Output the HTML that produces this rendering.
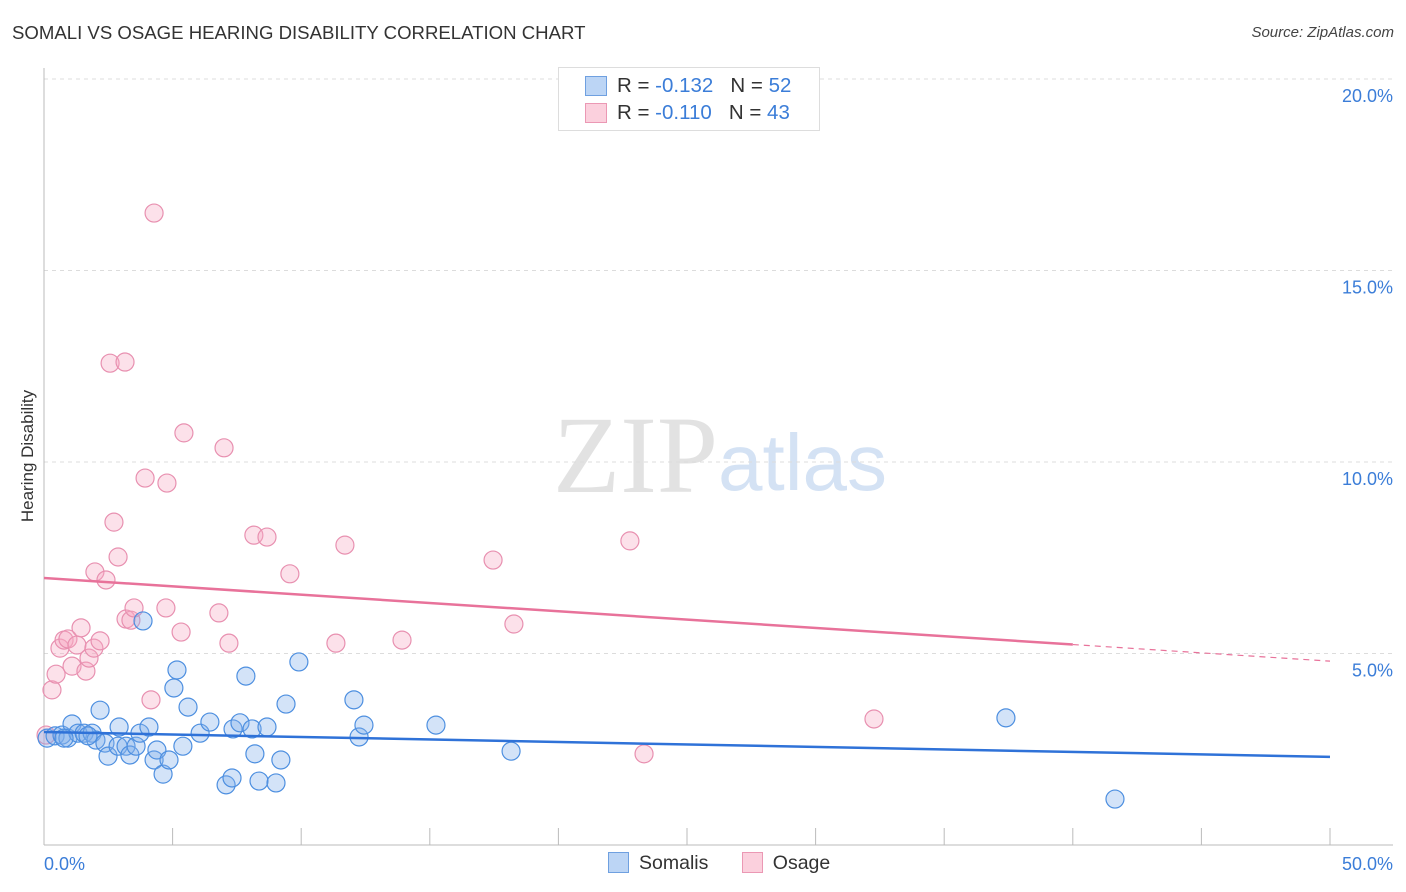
<!DOCTYPE html>
<html><head><meta charset="utf-8">
<style>
body{margin:0;background:#fff;font-family:"Liberation Sans",sans-serif;}
#wrap{position:relative;width:1406px;height:892px;overflow:hidden;}
.title{position:absolute;left:12px;top:22px;font-size:18.6px;color:#333;}
.source{position:absolute;right:12px;top:24px;font-size:15px;color:#444;font-style:italic;}
</style></head><body>
<div id="wrap">
<div class="title">SOMALI VS OSAGE HEARING DISABILITY CORRELATION CHART</div>
<div class="source">Source: ZipAtlas.com</div>
<svg id="chart" width="1406" height="892" style="position:absolute;left:0;top:0"></svg>
</div>
<script>
const xTicks=[0,5,10,15,20,25,30,35,40,45,50];
const yTicks=[5,10,15,20];
const somaliX=[0.12,0.43,0.70,0.93,1.09,1.32,1.56,1.87,2.02,2.18,2.37,2.49,2.92,2.88,3.19,3.34,3.58,3.73,3.85,4.08,4.28,4.39,4.63,4.86,5.05,5.17,5.40,5.60,6.07,6.45,7.08,7.31,7.35,7.62,7.85,8.09,8.20,8.36,8.67,9.02,9.21,9.41,9.91,12.05,12.25,12.44,15.24,18.16,37.40,41.64,1.71,0.78];
const somaliY=[2.79,2.85,2.87,2.79,3.16,2.92,2.92,2.92,2.74,3.52,2.66,2.32,3.08,2.58,2.58,2.35,2.58,2.92,5.85,3.08,2.22,2.48,1.85,2.22,4.10,4.57,2.58,3.60,2.92,3.21,1.57,1.75,3.03,3.19,4.41,3.03,2.38,1.67,3.08,1.62,2.22,3.68,4.78,3.79,2.82,3.13,3.13,2.45,3.32,1.20,2.85,2.79];
const osageX=[0.08,0.31,0.47,0.62,0.78,0.93,1.09,1.28,1.44,1.63,1.75,1.94,2.18,1.98,2.41,2.57,2.72,2.88,3.15,3.19,3.38,3.50,4.16,3.93,4.28,4.78,4.74,5.33,5.44,6.80,7.00,7.19,8.16,8.67,9.56,11.35,11.70,13.92,17.46,18.27,22.78,23.33,32.27];
const osageY=[2.87,4.05,4.46,5.14,5.35,5.38,4.67,5.22,5.67,4.54,4.88,5.14,5.33,7.13,6.92,12.58,8.43,7.52,12.61,5.90,5.87,6.19,3.79,9.58,16.50,9.45,6.19,5.56,10.76,6.06,10.37,5.27,8.09,8.04,7.08,5.27,7.83,5.35,7.44,5.77,7.94,2.38,3.29];
const somaliTrend=[2.95,2.30];
const osageTrend=[6.97,4.80];
const NS="http://www.w3.org/2000/svg";
const svg=document.getElementById('chart');
const X=v=>44+v*25.72, Y=v=>845-v*38.3;
function mk(t,a,p){const e=document.createElementNS(NS,t);for(const k in a)e.setAttribute(k,a[k]);(p||svg).appendChild(e);return e;}
let wm=mk('text',{x:553,y:492,'font-size':110,fill:'#e2e2e2','font-family':'Liberation Serif, serif'});wm.textContent='ZIP';


let wm2=mk('text',{x:718,y:490,'font-size':80,fill:'#d4e2f4','font-family':'Liberation Sans, sans-serif'});wm2.textContent='atlas';


yTicks.forEach(t=>{
 const g=mk('line',{x1:44,x2:1393,y1:Y(t),y2:Y(t),stroke:'#dcdcdc','stroke-dasharray':'4,4'});
 
 
 const l=mk('text',{x:1393,y:Y(t)+23,'text-anchor':'end','font-size':18,fill:'#3b7dd8'});l.textContent=t.toFixed(1)+'%';
 
 
});
mk('line',{x1:44,x2:44,y1:68,y2:845,stroke:'#bbb'});
mk('line',{x1:44,x2:1393,y1:845,y2:845,stroke:'#bbb'});
xTicks.forEach(t=>{const e=mk('line',{x1:X(t),x2:X(t),y1:828,y2:845,stroke:'#bbb'});
 
 });
let xl=mk('text',{x:44,y:870,'font-size':18,fill:'#3b7dd8'});xl.textContent='0.0%';


let xr=mk('text',{x:1393,y:870,'text-anchor':'end','font-size':18,fill:'#3b7dd8'});xr.textContent='50.0%';


let yt=mk('text',{x:0,y:0,'font-size':17,fill:'#333','text-anchor':'middle',transform:'translate(33,456) rotate(-90)'});yt.textContent='Hearing Disability';


function pts(xs,ys,fill,stroke,name){xs.forEach((x,i)=>{const c=mk('circle',{cx:X(x),cy:Y(ys[i]),r:9,fill:fill,stroke:stroke,'stroke-width':1.2});
 
 });}
pts(osageX,osageY,'rgba(246,170,196,0.35)','#e890b0','osage-point');
pts(somaliX,somaliY,'rgba(130,175,235,0.35)','#4d8fe0','somali-point');
let tb=mk('line',{x1:X(0),y1:Y(somaliTrend[0]),x2:X(50),y2:Y(somaliTrend[1]),stroke:'#2f72d8','stroke-width':2.5});


const oy=x=>osageTrend[0]+(osageTrend[1]-osageTrend[0])*x/50;
let tp=mk('line',{x1:X(0),y1:Y(oy(0)),x2:X(40),y2:Y(oy(40)),stroke:'#e8729a','stroke-width':2.5});


let tp2=mk('line',{x1:X(40),y1:Y(oy(40)),x2:X(50),y2:Y(oy(50)),stroke:'#e8729a','stroke-width':1.2,'stroke-dasharray':'6,5'});


</script>
<div style="position:absolute;left:558px;top:67px;width:260px;height:62px;border:1px solid #ddd;background:#fff;font-size:20.5px;color:#333;">
 <div style="position:absolute;left:26px;top:8px;width:20px;height:18px;background:#bcd5f5;border:1px solid #6fa0e0"></div>
 <div style="position:absolute;left:58px;top:6px">R = <span style="color:#3b7dd8">-0.132</span>&nbsp;&nbsp;&nbsp;N = <span style="color:#3b7dd8">52</span></div>
 <div style="position:absolute;left:26px;top:35px;width:20px;height:18px;background:#fbd0dd;border:1px solid #eb98b4"></div>
 <div style="position:absolute;left:58px;top:33px">R = <span style="color:#3b7dd8">-0.110</span>&nbsp;&nbsp;&nbsp;N = <span style="color:#3b7dd8">43</span></div>
</div>
<div style="position:absolute;left:608px;top:852px;font-size:19.5px;color:#333;">
 <span><span style="display:inline-block;width:19px;height:19px;background:#bcd5f5;border:1px solid #6fa0e0;vertical-align:-4px;margin-right:10px"></span>Somalis</span>
 <span style="margin-left:28px"><span style="display:inline-block;width:19px;height:19px;background:#fbd0dd;border:1px solid #eb98b4;vertical-align:-4px;margin-right:10px"></span>Osage</span>
</div>
</body></html>
